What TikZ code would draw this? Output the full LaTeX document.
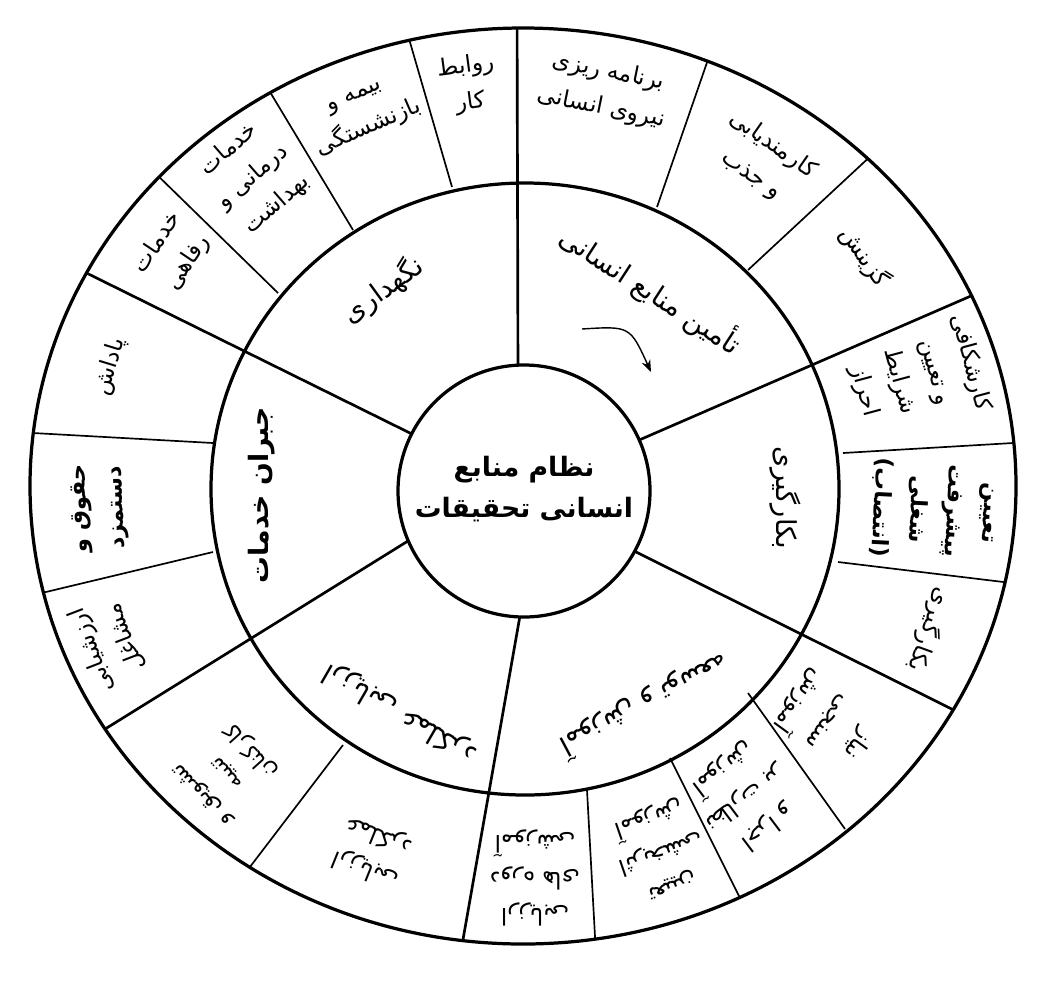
\documentclass[tikz,border=0pt]{standalone}
\usepackage{fontspec}
\usetikzlibrary{arrows.meta}
\newfontfamily\arabicfont[Script=Arabic]{DejaVu Sans}
\TeXXeTstate=1
\newcommand{\fa}[1]{\beginR #1\endR}
\tikzset{
  ring/.style={draw=black, line width=2.3pt},
  spoke/.style={draw=black, line width=1.9pt},
  subspoke/.style={draw=black, line width=1.2pt},
  hub/.style={align=center, inner sep=0pt, font=\arabicfont\bfseries\fontsize{19}{29}\selectfont},
  sector/.style={align=center, inner sep=0pt, font=\arabicfont\fontsize{19.5}{29}\selectfont},
  subitem/.style={align=center, inner sep=0pt, font=\arabicfont\fontsize{16.5}{26}\selectfont},
  boldsub/.style={subitem, font=\arabicfont\bfseries\fontsize{16}{26}\selectfont},
  flow/.style={draw=black, line width=1pt, -{Stealth[length=3mm]}}
}

\begin{document}
\begin{tikzpicture}[x=0.025cm, y=-0.025cm]
  \useasboundingbox (0,0) rectangle (1043,988);
  % spokes, cut at the outer ring
  \begin{scope}
    \clip (523,486) ellipse [x radius=493, y radius=458];
    \draw[spoke] (518,380) -- (517,0);
    \draw[spoke] (630,444) -- (1010,279);
    \draw[spoke] (626,547) -- (1000,733);
    \draw[spoke] (521,610) -- (455,985);
    \draw[spoke] (416,536) -- (60,757);
    \draw[spoke] (418,437) -- (40,250);
    \draw[subspoke] (657,207) -- (712,48);
    \draw[subspoke] (748,270) -- (875,152);
    \draw[subspoke] (843,453) -- (1030,442);
    \draw[subspoke] (838,562) -- (1020,584);
    \draw[subspoke] (748,693) -- (845,829);
    \draw[subspoke] (670,758) -- (743,904);
    \draw[subspoke] (587,790) -- (596,955);
    \draw[subspoke] (343,745) -- (240,880);
    \draw[subspoke] (213,552) -- (25,597);
    \draw[subspoke] (213,443) -- (15,432);
    \draw[subspoke] (278,293) -- (150,168);
    \draw[subspoke] (353,230) -- (264,82);
    \draw[subspoke] (452,187) -- (405,25);
  \end{scope}
  \draw[ring] (523,486) ellipse [x radius=493, y radius=458];
  \draw[ring] (525,489) ellipse [x radius=314, y radius=306];
  \draw[ring, fill=white] (524,491) circle [radius=126];

  \node[hub] (core) at (524,489) {\fa{نظام منابع}\\\fa{انسانی تحقیقات}};

  % main subsystems
  \node[sector, rotate=-33] (supply) at (651,290) {\fa{تأمین منابع انسانی}};
  \node[sector, rotate=-90] (employ) at (785,498) {\fa{بکارگیری}};
  \node[sector, rotate=-152] (train) at (645,705) {\fa{آموزش و توسعه}};
  \node[sector, rotate=150] (appraise) at (400,713) {\fa{ارزیابی عملکرد}};
  \node[hub, rotate=90] (reward) at (262,495) {\fa{جبران خدمات}};
  \node[sector, rotate=36] (keep) at (383,290) {\fa{نگهداری}};

  \coordinate (turnA) at (582,329);
  \coordinate (turnB) at (651,372);
  \draw[flow] (turnA) .. controls (630,326) .. (turnB);

  % sub items
  \node[subitem, rotate=-11.5] (plan) at (605,90) {\fa{برنامه ریزی}\\\fa{نیروی انسانی}};
  \node[subitem, rotate=-35] (recruit) at (762,160) {\fa{کارمندیابی}\\\fa{و جذب}};
  \node[subitem, rotate=-55] (select) at (865,257) {\fa{گزینش}};
  \node[subitem, rotate=-75] (jobanal) at (917,377) {\fa{کارشکافی}\\\fa{و تعیین}\\\fa{شرایط}\\\fa{احراز}};
  \node[boldsub, rotate=-93] (place) at (933,510) {\fa{تعیین}\\\fa{پیشرفت}\\\fa{شغلی}\\\fa{(انتصاب)}};
  \node[subitem, rotate=-110] (employB) at (930,630) {\fa{بکارگیری}};
  \node[subitem, rotate=-126] (trainA) at (828,722) {\fa{نیاز}\\\fa{سنجی}\\\fa{آموزش}};
  \node[subitem, rotate=-143] (trainB) at (745,798) {\fa{اجرا و}\\\fa{نظارت بر}\\\fa{آموزش}};
  \node[subitem, rotate=-161] (trainC) at (660,850) {\fa{تعیین}\\\fa{اثربخشی}\\\fa{آموزش}};
  \node[subitem, rotate=180] (trainD) at (535,878) {\fa{ارزیابی}\\\fa{دوره های}\\\fa{آموزشی}};
  \node[subitem, rotate=158] (appraiseB) at (372,852) {\fa{ارزیابی}\\\fa{عملکرد}};
  \node[subitem, rotate=132, font=\arabicfont\fontsize{15.5}{24}\selectfont] (encourage) at (228,772) {\fa{تشویق و}\\\fa{تنبیه}\\\fa{کارکنان}};
  \node[subitem, rotate=111] (jobeval) at (108,644) {\fa{ارزشیابی}\\\fa{مشاغل}};
  \node[boldsub, rotate=92] (wage) at (100,508) {\fa{حقوق و}\\\fa{دستمزد}};
  \node[subitem, rotate=73] (bonus) at (110,367) {\fa{پاداش}};
  \node[subitem, rotate=56] (welfare) at (173,253) {\fa{خدمات}\\\fa{رفاهی}};
  \node[subitem, rotate=41] (health) at (253,177) {\fa{خدمات}\\\fa{درمانی و}\\\fa{بهداشت}};
  \node[subitem, rotate=23.5] (insure) at (363,115) {\fa{بیمه و}\\\fa{بازنشستگی}};
  \node[subitem, rotate=7.5] (labour) at (468,85) {\fa{روابط}\\\fa{کار}};
\end{tikzpicture}
\end{document}
